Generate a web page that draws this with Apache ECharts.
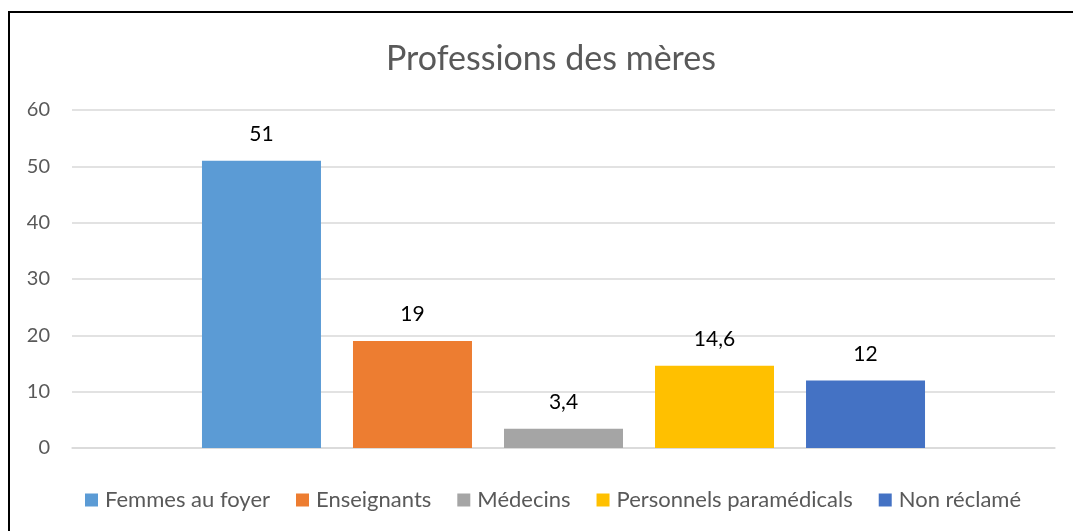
<!DOCTYPE html>
<html>
<head>
<meta charset="utf-8">
<script src="https://cdn.jsdelivr.net/npm/echarts@6/dist/echarts.min.js"></script>
<style>
html,body{margin:0;padding:0;background:#fff;}
#c{width:1073px;height:531px;position:relative;}
#frame{position:absolute;left:8px;top:11px;right:-10px;bottom:-10px;border-left:2px solid #000;border-top:2px solid #000;pointer-events:none;}
</style>
</head>
<body>
<div id="c"></div>
<div id="frame"></div>
<script>
const categories = ['Professions des mères'];
const seriesNames = ['Femmes au foyer', 'Enseignants', 'Médecins', 'Personnels paramédicals', 'Non réclamé'];
const seriesValues = [51, 19, 3.4, 14.6, 12];
const colors = ['#5B9BD5', '#ED7D31', '#A5A5A5', '#FFC000', '#4472C4'];
const yTicks = [0, 10, 20, 30, 40, 50, 60];

const font = 'Lato, "Open Sans", sans-serif';
const chart = echarts.init(document.getElementById('c'), null, {renderer: 'canvas'});
chart.setOption({
  animation: false,
  title: {
    text: 'Professions des mères',
    left: 381, top: 37,
    textStyle: {fontFamily: font, fontSize: 34, fontWeight: 'normal', color: '#595959'}
  },
  grid: {left: 72, right: 18, top: 110, bottom: 83, containLabel: false},
  legend: {
    bottom: 15, left: 80,
    itemWidth: 13, itemHeight: 13, itemGap: 26,
    icon: 'rect',
    textStyle: {fontFamily: font, fontSize: 22, color: '#595959', padding: [0, 0, 0, 2]},
    data: seriesNames
  },
  xAxis: {
    type: 'category', data: categories,
    axisLine: {show: true, lineStyle: {color: '#D9D9D9', width: 1.5}},
    axisTick: {show: false}, axisLabel: {show: false}
  },
  yAxis: {
    type: 'value', min: yTicks[0], max: yTicks[yTicks.length - 1], interval: 10,
    axisLine: {show: false}, axisTick: {show: false},
    axisLabel: {fontFamily: font, fontSize: 20, color: '#595959', margin: 22},
    splitLine: {lineStyle: {color: '#D9D9D9', width: 1.5}}
  },
  series: seriesNames.map((n, i) => ({
    name: n, type: 'bar', data: [seriesValues[i]],
    barWidth: 119, barGap: '26.9%',
    itemStyle: {color: colors[i]},
    label: {
      show: true, position: 'top', distance: 16,
      fontFamily: font, fontSize: 21, color: '#000',
      formatter: p => String(p.value).replace('.', ',')
    }
  }))
});
</script>
</body>
</html>
